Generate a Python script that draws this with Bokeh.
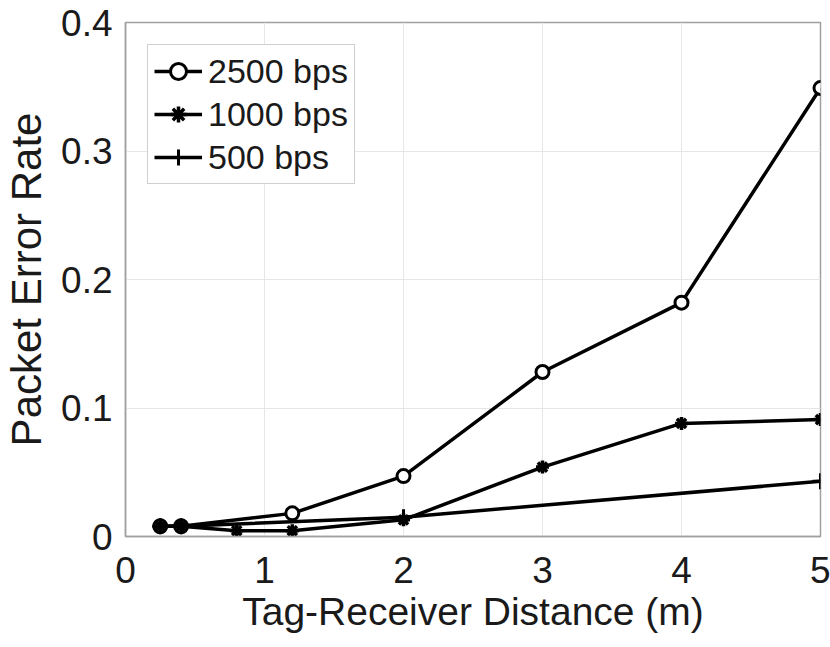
from bokeh.plotting import figure
from bokeh.models import Range1d, FixedTicker, Legend, LegendItem
from bokeh.embed import file_html
from bokeh.resources import INLINE

# Data
x_2500 = [0.25, 0.4, 1.2, 2, 3, 4, 5]
y_2500 = [0.008, 0.008, 0.018, 0.047, 0.128, 0.182, 0.349]
x_1000 = [0.25, 0.4, 0.8, 1.2, 2, 3, 4, 5]
y_1000 = [0.008, 0.008, 0.0045, 0.0045, 0.013, 0.054, 0.088, 0.091]
x_500 = [0.25, 0.4, 2, 5]
y_500 = [0.008, 0.008, 0.015, 0.043]
labels = ["2500 bps", "1000 bps", "500 bps"]
x_ticks = [0, 1, 2, 3, 4, 5]
y_ticks = [0, 0.1, 0.2, 0.3, 0.4]

FONT = "Liberation Sans"
TXT = "#1a1a1a"
GRAY = "#a0a0a0"

p = figure(width=830, height=647, output_backend="svg", toolbar_location=None,
           x_range=Range1d(0, 5), y_range=Range1d(0, 0.4),
           min_border_left=123, min_border_right=10, min_border_top=22,
           min_border_bottom=111)
p.background_fill_color = "white"
p.border_fill_color = "white"
p.outline_line_color = GRAY
p.outline_line_width = 1.5

for ax in (p.xaxis, p.yaxis):
    ax.axis_line_color = GRAY
    ax.axis_line_width = 1.5
    ax.major_tick_line_color = GRAY
    ax.major_tick_in = 0
    ax.major_tick_out = 0
    ax.minor_tick_line_color = None
    ax.major_label_text_font = FONT
    ax.major_label_text_font_size = "37px"
    ax.major_label_text_color = TXT
    ax.axis_label_text_font = FONT
    ax.axis_label_text_font_style = "normal"
    ax.axis_label_text_color = TXT

p.xaxis.axis_label_text_font_size = "39px"
p.yaxis.axis_label_text_font_size = "42px"
p.xaxis.ticker = FixedTicker(ticks=x_ticks)
p.yaxis.ticker = FixedTicker(ticks=y_ticks)
p.yaxis.formatter.use_scientific = False
p.xaxis.major_label_standoff = 20
p.yaxis.major_label_standoff = 13
p.xaxis.axis_label = "Tag-Receiver Distance (m)"
p.yaxis.axis_label = "Packet Error Rate"
p.xaxis.axis_label_standoff = 4
p.yaxis.axis_label_standoff = 8

p.xgrid.ticker = FixedTicker(ticks=x_ticks)
p.ygrid.ticker = FixedTicker(ticks=y_ticks)
p.grid.grid_line_color = "#e6e6e6"
p.grid.grid_line_width = 1

LW = 3.5
l1 = p.line(x_2500, y_2500, line_color="black", line_width=LW)
m1 = p.scatter(x_2500, y_2500, marker="circle", size=13, line_color="black",
               line_width=3, fill_color="white")
l2 = p.line(x_1000, y_1000, line_color="black", line_width=LW)
m2 = p.scatter(x_1000, y_1000, marker="asterisk", size=13, line_color="black",
               line_width=3.5)
l3 = p.line(x_500, y_500, line_color="black", line_width=LW)
m3 = p.scatter(x_500, y_500, marker="cross", size=16, line_color="black",
               line_width=3)

legend = Legend(items=[LegendItem(label=labels[0], renderers=[l1, m1]),
                       LegendItem(label=labels[1], renderers=[l2, m2]),
                       LegendItem(label=labels[2], renderers=[l3, m3])],
                location="top_left")
legend.label_text_font = FONT
legend.label_text_font_size = "34px"
legend.label_text_color = TXT
legend.glyph_width = 48
legend.glyph_height = 40
legend.label_height = 40
legend.spacing = 3
legend.padding = 6
legend.margin = 22
legend.label_standoff = 6
legend.border_line_color = GRAY
legend.border_line_width = 1.5
legend.background_fill_alpha = 1
p.add_layout(legend)

open("out.html", "w").write(file_html(p, INLINE))
